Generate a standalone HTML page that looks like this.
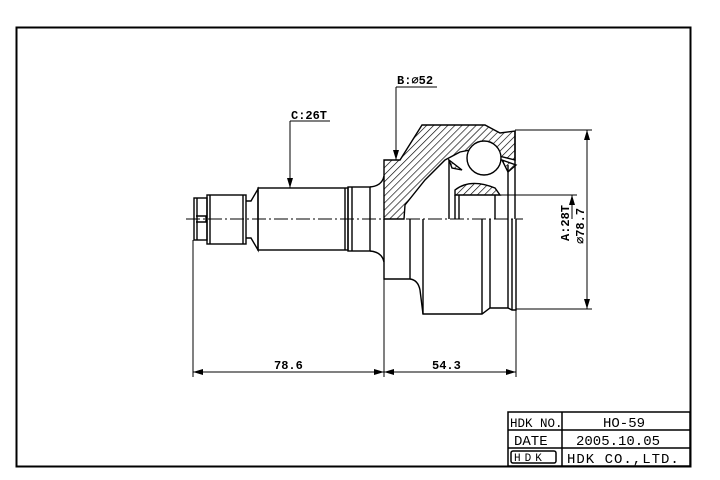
<!DOCTYPE html>
<html><head><style>body{margin:0;background:#fff}svg{display:block}text{font-family:"Liberation Mono",monospace}</style></head>
<body>
<svg width="720" height="480" viewBox="0 0 720 480" xmlns="http://www.w3.org/2000/svg">
<defs>
<pattern id="h" width="5" height="5" patternUnits="userSpaceOnUse" patternTransform="rotate(45)"><line x1="0" y1="0" x2="0" y2="5" stroke="#000" stroke-width="1.3"/></pattern>
<marker id="a" markerWidth="10" markerHeight="6" refX="10" refY="3" orient="auto-start-reverse" markerUnits="userSpaceOnUse"><path d="M0,0L10,3L0,6z" fill="#000"/></marker>
</defs>
<rect x="16.5" y="27.5" width="674" height="439" fill="none" stroke="#000" stroke-width="2"/>
<g fill="none" stroke="#000" stroke-width="1.4">
<line x1="186" y1="219" x2="523" y2="219" stroke-dasharray="14,3,2,3" stroke-width="1"/>
<rect x="194" y="198" width="13" height="42"/>
<line x1="197" y1="198" x2="197" y2="240"/>
<path d="M196,216h10v6h-10"/>
<rect x="207" y="195" width="39" height="49"/>
<line x1="210" y1="195" x2="210" y2="244"/>
<line x1="243" y1="195" x2="243" y2="244"/>
<path d="M246,201 L251,201 L258,189 L258,250 L251,238 L246,238"/>
<rect x="258" y="188" width="90" height="62"/>
<line x1="345" y1="188" x2="345" y2="250"/>
<rect x="348" y="187" width="22" height="64"/>
<line x1="352" y1="187" x2="352" y2="251"/>
<path d="M370,187 Q382,186 384,176 M370,251 Q382,252 384,262"/>
<path d="M384,160 L400,160 L422,125 L485,125 L500,133 L515,131 L515,160 L495,155 L480,148 L460,152 L445,160 L425,180 L405,205 L404,219 L384,219 Z" fill="url(#h)"/>
<path d="M455,190 Q470,178 495,188 L500,195 L455,195 Z" fill="url(#h)"/>
<path d="M449,160 L452,168 L462,170 Z M502,160 L516,165 L508,172 Z" fill="url(#h)"/>
<circle cx="484" cy="158" r="17" fill="#fff"/>
<line x1="449" y1="160" x2="449" y2="219"/>
<line x1="455" y1="195" x2="455" y2="219"/>
<line x1="459" y1="195" x2="459" y2="219"/>
<line x1="495" y1="195" x2="495" y2="219"/>
<line x1="508" y1="165" x2="508" y2="219"/>
<line x1="515" y1="131" x2="515" y2="219"/>
<line x1="463" y1="195" x2="577" y2="195" stroke-width="1"/>
<path d="M384,219 L384,279 L410,279 Q418,280 420,290 L423,314 L482,314 L490,308 L508,308 L512,310 L516,310 L516,219"/>
<line x1="410" y1="219" x2="410" y2="279"/>
<line x1="423" y1="219" x2="423" y2="314"/>
<line x1="482" y1="219" x2="482" y2="314"/>
<line x1="490" y1="219" x2="490" y2="308"/>
<line x1="508" y1="219" x2="508" y2="308"/>
<line x1="512" y1="219" x2="512" y2="310"/>
</g>
<g stroke="#000" stroke-width="1" fill="none">
<line x1="193" y1="240" x2="193" y2="377"/>
<line x1="384" y1="279" x2="384" y2="377"/>
<line x1="516" y1="310" x2="516" y2="377"/>
<line x1="193" y1="372" x2="384" y2="372" marker-start="url(#a)" marker-end="url(#a)"/>
<line x1="384" y1="372" x2="516" y2="372" marker-start="url(#a)" marker-end="url(#a)"/>
<line x1="515" y1="130" x2="592" y2="130"/>
<line x1="516" y1="309" x2="592" y2="309"/>
<line x1="587" y1="130" x2="587" y2="309" marker-start="url(#a)" marker-end="url(#a)"/>
<line x1="572" y1="219" x2="572" y2="195" marker-end="url(#a)"/>
<path d="M290,121 L330,121 M290,121 L290,188" marker-end="url(#a)"/>
<path d="M396,87 L437,87 M396,87 L396,160" marker-end="url(#a)"/>
</g>
<g font-size="12" font-weight="bold" fill="#000">
<text x="291" y="119">C:26T</text>
<text x="397" y="84">B:⌀52</text>
<text x="274" y="369">78.6</text>
<text x="432" y="369">54.3</text>
<text transform="translate(569,241) rotate(-90)">A:28T</text>
<text transform="translate(584,244) rotate(-90)">⌀78.7</text>
</g>
<g stroke="#000" stroke-width="1.5" fill="none">
<rect x="508" y="412" width="182" height="54"/>
<line x1="508" y1="430" x2="690" y2="430"/>
<line x1="508" y1="448" x2="690" y2="448"/>
<line x1="562" y1="412" x2="562" y2="466"/>
<rect x="511" y="451" width="45" height="12" rx="2"/>
</g>
<g font-family="'Liberation Sans',sans-serif" fill="#000">
<text x="510" y="427" font-size="12.5">HDK NO.</text>
<text x="603" y="427" font-size="14">HO-59</text>
<text x="514" y="445" font-size="14">DATE</text>
<text x="576" y="445" font-size="14">2005.10.05</text>
<text x="514" y="461" font-size="11" letter-spacing="4">HDK</text>
<text x="567" y="463" font-size="14" letter-spacing="1">HDK CO.,LTD.</text>
</g>
</svg>
</body></html>
